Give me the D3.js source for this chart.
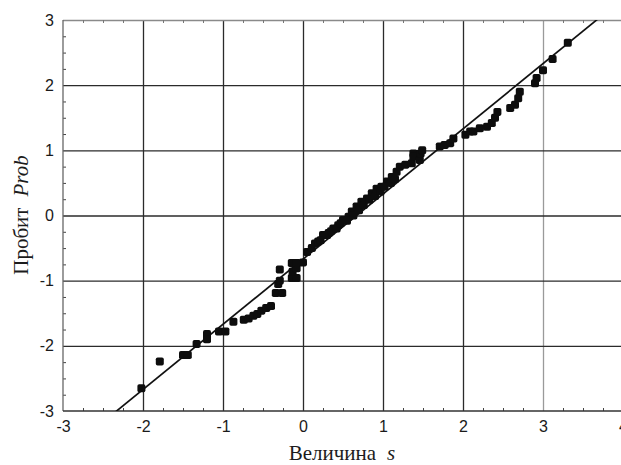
<!DOCTYPE html>
<html>
<head>
    <meta charset="utf-8">
    <style>
        body { margin: 0; background: #fff; }
        svg { display: block; }
        .tick-label text { font-family: 'Liberation Sans', Arial, sans-serif; font-size: 16px; fill: #1a1a1a; }
        .axis-title { font-family: 'Liberation Serif', 'Times New Roman', serif; font-size: 21px; fill: #1c1c1c; }
    </style>
</head>
<body>
<svg class="chart" width="621" height="465"></svg>

<script src="https://d3js.org/d3.v7.min.js"></script>
<script>
    // values
    let sValues = [-2.02, -1.79, -1.5, -1.44, -1.33, -1.2, -1.2, -1.05, -0.97, -0.87,
        -0.74, -0.68, -0.62, -0.57, -0.52, -0.46, -0.4, -0.34, -0.26, -0.31,
        -0.29, -0.29, -0.14, -0.08, -0.13, -0.08, -0.14, -0.08, 0.0, 0.05,
        0.11, 0.15, 0.19, 0.25, 0.32, 0.38, 0.44, 0.5, 0.57, 0.61,
        0.67, 0.73, 0.8, 0.86, 0.92, 0.98, 1.05, 1.11, 1.17, 0.22,
        0.3, 0.35, 0.42, 0.47, 0.55, 0.63, 0.7, 0.76, 0.83, 0.9,
        0.97, 1.02, 1.1, 1.15, 1.21, 1.28, 1.36, 1.38, 1.38, 1.46,
        1.47, 1.49, 1.71, 1.77, 1.84, 1.88, 2.03, 2.09, 2.13, 2.21,
        2.3, 2.36, 2.4, 2.43, 2.59, 2.65, 2.69, 2.71, 2.9, 2.92,
        3.0, 3.12, 3.31]
    let probValues = [-2.65, -2.24, -2.14, -2.14, -1.97, -1.82, -1.9, -1.78, -1.78, -1.63,
        -1.6, -1.58, -1.54, -1.51, -1.46, -1.42, -1.39, -1.19, -1.19, -1.05,
        -1.0, -0.83, -0.96, -0.96, -0.86, -0.81, -0.73, -0.73, -0.72, -0.56,
        -0.5, -0.43, -0.4, -0.3, -0.27, -0.2, -0.15, -0.07, -0.02, 0.06,
        0.14, 0.21, 0.26, 0.34, 0.41, 0.44, 0.52, 0.59, 0.67, -0.38,
        -0.3, -0.24, -0.2, -0.12, -0.08, 0.0, 0.08, 0.16, 0.24, 0.3,
        0.37, 0.44, 0.5, 0.56, 0.75, 0.78, 0.8, 0.95, 0.9, 0.85,
        0.95, 1.0, 1.06, 1.08, 1.11, 1.18, 1.24, 1.29, 1.29, 1.34,
        1.36, 1.42, 1.5, 1.59, 1.65, 1.7, 1.8, 1.9, 2.03, 2.11,
        2.23, 2.4, 2.65]

    let xTicks = [-3, -2, -1, 0, 1, 2, 3, 4]
    let yTicks = [-3, -2, -1, 0, 1, 2, 3]
    let fitSlope = 1.0
    let fitIntercept = -0.67

    let width = 621, height = 465
    let margin = {top: 20, right: -2, bottom: 54, left: 63}

    let svg = d3.select(".chart")

    let x = d3.scaleLinear().domain([-3, 4]).range([margin.left, width - margin.right])
    let y = d3.scaleLinear().domain([-3, 3]).range([height - margin.bottom, margin.top])

    let plotW = width - margin.right - margin.left
    let plotH = height - margin.bottom - margin.top

    // grid lines
    let gridColor = v => (v == 3 ? "#9a9a9a" : "#2b2b2b")

    svg.append("g")
        .attr("transform", `translate(0, ${height - margin.bottom})`)
        .call(d3.axisBottom(x).tickValues(xTicks.slice(1)).tickSize(-plotH).tickFormat(""))
        .call(g => g.select(".domain").remove())
        .call(g => g.selectAll(".tick line").attr("stroke", d => gridColor(d)).attr("stroke-width", 1.3))

    svg.append("g")
        .attr("transform", `translate(${margin.left}, 0)`)
        .call(d3.axisLeft(y).tickValues(yTicks.slice(1)).tickSize(-plotW).tickFormat(""))
        .call(g => g.select(".domain").remove())
        .call(g => g.selectAll(".tick line").attr("stroke", d => d == 3 ? "#8a8a8a" : "#2b2b2b").attr("stroke-width", 1.3))

    // minor ticks (inside)
    let xMinor = d3.range(-3, 4.01, 0.25).filter(v => !xTicks.includes(v))
    let yMinor = d3.range(-3, 3.01, 0.25).filter(v => !yTicks.includes(v))

    svg.append("g")
        .attr("transform", `translate(0, ${height - margin.bottom})`)
        .call(d3.axisBottom(x).tickValues(xMinor).tickSize(-3).tickFormat(""))
        .call(g => g.select(".domain").remove())
        .call(g => g.selectAll(".tick line").attr("stroke", "#444"))

    svg.append("g")
        .attr("transform", `translate(0, ${margin.top})`)
        .call(d3.axisTop(x).tickValues(xMinor).tickSize(-3).tickFormat(""))
        .call(g => g.select(".domain").remove())
        .call(g => g.selectAll(".tick line").attr("stroke", "#777"))

    svg.append("g")
        .attr("transform", `translate(${margin.left}, 0)`)
        .call(d3.axisLeft(y).tickValues(yMinor).tickSize(-3).tickFormat(""))
        .call(g => g.select(".domain").remove())
        .call(g => g.selectAll(".tick line").attr("stroke", "#444"))

    // axis lines
    svg.append("line")
        .attr("x1", margin.left).attr("x2", margin.left)
        .attr("y1", margin.top).attr("y2", height - margin.bottom)
        .attr("stroke", "#666").attr("stroke-width", 1.3)
    svg.append("line")
        .attr("x1", margin.left).attr("x2", width - margin.right)
        .attr("y1", height - margin.bottom).attr("y2", height - margin.bottom)
        .attr("stroke", "#333").attr("stroke-width", 1.3)

    // tick labels (plain hyphen minus, as in the original)
    let plainFmt = d => String(d)

    svg.append("g")
        .attr("class", "tick-label")
        .attr("transform", `translate(0, ${height - margin.bottom})`)
        .call(d3.axisBottom(x).tickValues(xTicks).tickSize(0).tickPadding(10).tickFormat(plainFmt))
        .call(g => g.select(".domain").remove())
        .call(g => g.selectAll("text").attr("font-size", null).attr("font-family", null))

    svg.append("g")
        .attr("class", "tick-label")
        .attr("transform", `translate(${margin.left}, 0)`)
        .call(d3.axisLeft(y).tickValues(yTicks).tickSize(0).tickPadding(9).tickFormat(plainFmt))
        .call(g => g.select(".domain").remove())
        .call(g => g.selectAll("text").attr("font-size", null).attr("font-family", null))

    // clip for the fit line
    svg.append("clipPath").attr("id", "plot-clip")
        .append("rect")
        .attr("x", margin.left).attr("y", margin.top)
        .attr("width", plotW).attr("height", plotH)

    let fitX = [-3, 4]
    let fitLine = d3.line()
        .x(d => x(d))
        .y(d => y(fitIntercept + fitSlope * d))

    svg.append("path")
        .attr("d", fitLine(fitX))
        .attr("clip-path", "url(#plot-clip)")
        .attr("fill", "none")
        .attr("stroke", "#111")
        .attr("stroke-width", 1.7)

    // points
    let points = sValues.map((s, i) => ({s: s, p: probValues[i]}))
    let size = 8

    svg.append("g")
        .selectAll("rect")
        .data(points)
        .join("rect")
        .attr("x", d => x(d.s) - size / 2)
        .attr("y", d => y(d.p) - size / 2)
        .attr("width", size)
        .attr("height", size)
        .attr("rx", 1.8)
        .attr("fill", "#0d0d0d")

    // axis titles
    let xTitle = svg.append("text")
        .attr("class", "axis-title")
        .attr("x", 342)
        .attr("y", 460)
        .attr("text-anchor", "middle")
    xTitle.append("tspan").text("Величина")
    xTitle.append("tspan").attr("font-style", "italic").attr("dx", 11).text("s")

    let yTitle = svg.append("text")
        .attr("class", "axis-title")
        .attr("transform", "translate(28, 215) rotate(-90)")
        .attr("text-anchor", "middle")
    yTitle.append("tspan").text("Пробит")
    yTitle.append("tspan").attr("font-style", "italic").attr("dx", 11).text("Prob")
</script>
</body>
</html>
